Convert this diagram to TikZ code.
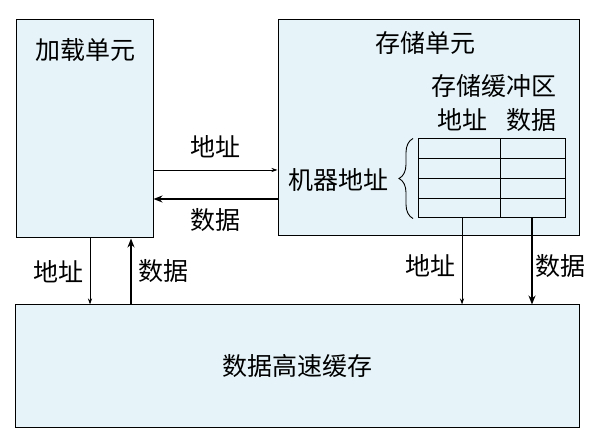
\documentclass[tikz,border=0pt]{standalone}
\usepackage{fontspec}
\setmainfont{Noto Sans CJK SC}
\usetikzlibrary{arrows.meta,decorations.pathreplacing}
\definecolor{unitfill}{RGB}{230,244,249}

\begin{document}
\begin{tikzpicture}[x=1pt, y=-1pt, line width=1pt, font=\fontsize{25pt}{28pt}\selectfont]
		
		% Styles
		\tikzstyle{unit} = [draw, fill=unitfill, inner sep=0pt];
		\tikzstyle{addr} = [-{Stealth[length=6pt,width=4pt]}, line width=0.8pt];
		\tikzstyle{data} = [-{Stealth[length=9pt,width=7pt]}, line width=2.6pt];
		
		\useasboundingbox (0,0) rectangle (589,443);
		
		% Nodes
		\node[unit, minimum width=137, minimum height=218] (load) at (84.5,129) {};
		\node[unit, minimum width=301, minimum height=216] (store) at (428.5,128) {};
		\node[unit, minimum width=564, minimum height=122] (cache) at (297,366) {数据高速缓存};
		
		\node (loadname) at (85,50) {加载单元};
		\node (storename) at (425,43) {存储单元};
		\node (bufname) at (494,86) {存储缓冲区};
		\node (bufaddr) at (462,120) {地址};
		\node (bufdata) at (531,120) {数据};
		\node (machaddr) at (338,180) {机器地址};
		
		\node[draw, inner sep=0pt, minimum width=147, minimum height=79] (buf) at (492,178.5) {};
		
		% Helper coordinates
		\coordinate (addrrow) at (0,170);
		\coordinate (datarow) at (0,199);
		\coordinate (divcol) at (500,0);
		\coordinate (loadaddr) at (90,0);
		\coordinate (loaddata) at (131,0);
		\coordinate (storeaddr) at (462,0);
		\coordinate (storedata) at (532,0);
		
		% Buffer rows
		\foreach \r in {158,178,198}
		\draw[line width=0.9pt] (buf.west |- 0,\r) -- (buf.east |- 0,\r);
		\draw[line width=0.9pt] (buf.north -| divcol) -- (buf.south -| divcol);
		\draw[line width=0.9pt, decorate, decoration={brace, amplitude=14pt}]
		([xshift=-5pt]buf.south west) -- ([xshift=-5pt]buf.north west);
		
		% Arrows
		\draw[addr] (load.east |- addrrow) -- (store.west |- addrrow)
		node[midway, above=8pt] (upaddr) {地址};
		\draw[data] (store.west |- datarow) -- (load.east |- datarow)
		node[midway, below=5pt] (updata) {数据};
		\draw[addr] (load.south -| loadaddr) -- (cache.north -| loadaddr)
		node[midway, left=3pt] (lowaddrL) {地址};
		\draw[data] (cache.north -| loaddata) -- (load.south -| loaddata)
		node[midway, right=3pt] (lowdataL) {数据};
		\draw[addr] (buf.south -| storeaddr) -- (cache.north -| storeaddr)
		node[pos=0.55, left=3pt] (lowaddrR) {地址};
		\draw[data] (buf.south -| storedata) -- (cache.north -| storedata)
		node[pos=0.55, right=0pt, inner sep=2pt] (lowdataR) {数据};
		
	\end{tikzpicture}
\end{document}
